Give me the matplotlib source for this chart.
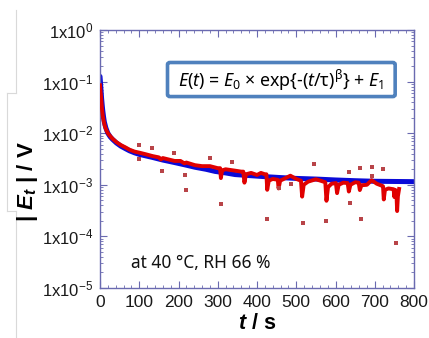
import numpy as np
import matplotlib
matplotlib.use("Agg")
import matplotlib.pyplot as plt
from matplotlib.lines import Line2D
from matplotlib.patches import FancyBboxPatch
from matplotlib.ticker import MultipleLocator, LogLocator, NullFormatter, FuncFormatter

plt.rcParams['font.family'] = ['Liberation Sans', 'DejaVu Sans']
plt.rcParams['mathtext.fontset'] = 'custom'
plt.rcParams['mathtext.rm'] = 'Noto Sans'
plt.rcParams['mathtext.it'] = 'Noto Sans:italic'
plt.rcParams['mathtext.bf'] = 'Liberation Sans:bold'
plt.rcParams['mathtext.bfit'] = 'Liberation Sans:italic:bold'
plt.rcParams['mathtext.fallback'] = 'stixsans'

# fitted curve E(t)
t_fit = [0, 1, 2.5, 4, 5.5, 7, 9, 11, 15, 20, 26, 32, 42, 53, 65, 75, 88, 100,
         117, 134, 160, 191, 220, 242, 270, 293, 320, 344, 380, 413, 460, 500,
         552, 600, 650, 700, 750, 800]
E_fit = [0.126, 0.100, 0.0692, 0.0479, 0.0355, 0.0275, 0.0209, 0.0166, 0.0126,
         0.0100, 0.00851, 0.00759, 0.00646, 0.00562, 0.00501, 0.00457, 0.00417,
         0.00389, 0.00363, 0.00339, 0.00302, 0.00269, 0.00240, 0.00219, 0.00200,
         0.00182, 0.00170, 0.00158, 0.00151, 0.00145, 0.00138, 0.00133, 0.00129,
         0.00124, 0.00120, 0.00117, 0.00116, 0.00115]

# measured |E_t| trace (red)
t_meas = [0, 1.5, 3, 5, 7, 9, 12, 16, 20, 26, 32, 42, 53, 65, 75, 88, 100, 117,
          134, 150, 155, 160, 190, 205, 215, 220, 242, 260, 280, 300, 306, 308,
          311, 320, 344, 360, 365, 368, 372, 385, 400, 410, 420, 424, 426, 430,
          440, 453, 455, 459, 485, 500, 512, 515, 519, 530, 550, 565, 574, 577,
          581, 590, 601, 604, 608, 620, 631, 634, 638, 650, 659, 662, 666, 680,
          692, 705, 718, 721, 723, 726, 735, 748, 750, 752, 755, 757, 759, 762]
E_meas = [0.085, 0.062, 0.048, 0.030, 0.022, 0.0178, 0.0140, 0.0115, 0.0100,
          0.0088, 0.0078, 0.0067, 0.0059, 0.0053, 0.0048, 0.0044, 0.0042, 0.0039,
          0.0036, 0.0034, 0.0031, 0.0033, 0.0029, 0.0029, 0.0026, 0.0027, 0.0024,
          0.0023, 0.0023, 0.0021, 0.0021, 0.00135, 0.0019, 0.0020, 0.00188,
          0.0018, 0.0018, 0.00110, 0.0016, 0.0017, 0.00155, 0.0017, 0.0016,
          0.0016, 0.00080, 0.0012, 0.0013, 0.00125, 0.00085, 0.0012, 0.0015,
          0.0013, 0.0012, 0.00059, 0.00100, 0.00115, 0.00128, 0.00118, 0.00112,
          0.00049, 0.00090, 0.00105, 0.00108, 0.00069, 0.00100, 0.00110, 0.00108,
          0.00074, 0.00100, 0.00112, 0.00110, 0.00079, 0.00098, 0.00100, 0.00123,
          0.00105, 0.00096, 0.00094, 0.00052, 0.00080, 0.00085, 0.00082, 0.00058,
          0.00080, 0.00075, 0.00031, 0.00060, 0.00083]

# scattered outlier points
t_out = [100, 100, 132, 157, 189, 217, 218, 279, 308, 337, 426, 457, 487, 546,
         516, 576, 634, 636, 662, 665, 694, 694, 722, 753]
E_out = [0.0059, 0.00316, 0.0051, 0.00186, 0.0042, 0.00158, 0.00079, 0.00324,
         0.00042, 0.00275, 0.000214, 0.00085, 0.00105, 0.00251, 0.000178,
         0.000195, 0.00174, 0.000437, 0.00214, 0.000214, 0.00224, 0.00145,
         0.00204, 7.4e-5]

x_ticks = [0, 100, 200, 300, 400, 500, 600, 700, 800]

W, H = 429, 338
fig = plt.figure(figsize=(W / 100, H / 100), dpi=100)
ax = fig.add_axes([100 / W, 1 - 288 / H, 314 / W, 258 / H])

ax.plot(t_fit, E_fit, color='#0a0ad8', lw=3.6, solid_capstyle='round', zorder=2)
ax.plot(t_meas, E_meas, color='#e00000', lw=2.8, solid_joinstyle='round', zorder=3)
ax.plot(t_out, E_out, ls='none', marker='s', ms=2.8, color='#b84448', mew=0, zorder=3)

ax.set_yscale('log')
ax.set_xlim(0, 800)
ax.set_ylim(1e-5, 1)
ax.set_xticks(x_ticks)
ax.xaxis.set_minor_locator(MultipleLocator(20))
ax.yaxis.set_major_locator(LogLocator(base=10, numticks=10))
ax.yaxis.set_minor_locator(LogLocator(base=10, subs=np.arange(2, 10), numticks=20))
ax.yaxis.set_minor_formatter(NullFormatter())
ax.yaxis.set_major_formatter(FuncFormatter(
    lambda v, _: r'1$\mathregular{x}$10$^{\mathregular{%d}}$' % int(round(np.log10(v)))))

spine_c = '#6a6ab0'
for s in ax.spines.values():
    s.set_color(spine_c)
    s.set_linewidth(1.0)
ax.tick_params(which='both', direction='in', top=True, right=True, color=spine_c,
               labelcolor='#1a1a1a')
ax.tick_params(which='major', length=5, width=0.8)
ax.tick_params(which='minor', length=2.5, width=0.6)
ax.tick_params(axis='x', labelsize=12.5, pad=5)
ax.tick_params(axis='y', labelsize=12, pad=5)

ax.set_xlabel(r'$\mathbfit{t}$ / s', fontsize=15.5, fontweight='bold', labelpad=2)
fig.text(27 / W, 1 - 182 / H, r'| $\mathbfit{E}_{\mathbfit{t}}$ | / V', rotation=90,
         fontsize=16, fontweight='bold', ha='center', va='center')

# equation box
box = FancyBboxPatch((0.215, 0.742), 0.725, 0.132, transform=ax.transAxes,
                     boxstyle='round,pad=0,rounding_size=0.008',
                     fc='white', ec='#4f81bd', lw=2.6, zorder=5)
ax.add_patch(box)
ax.text(0.577, 0.806,
        r'$\mathit{E}(\mathit{t})$ = $\mathit{E}_{\mathit{0}}$ $\times$ exp{-($\mathit{t}$/τ)$^{\mathrm{β}}$} + $\mathit{E}_{\mathit{1}}$',
        transform=ax.transAxes, ha='center', va='center', fontsize=12.8,
        family='Noto Sans', zorder=6)

ax.text(0.1, 0.095, 'at 40 °C, RH 66 %', transform=ax.transAxes, ha='left',
        va='center', fontsize=12.5, family='Noto Sans', color='#111111')

# light grey frame left around the y label
gc = '#d9d9d9'
segs = [((16, 10), (16, 93)), ((7, 93), (16, 93)), ((7, 93), (7, 211)),
        ((7, 211), (16, 211)), ((16, 211), (16, 338))]
for (x0, y0), (x1, y1) in segs:
    fig.add_artist(Line2D([x0 / W, x1 / W], [1 - y0 / H, 1 - y1 / H], color=gc, lw=0.8))

fig.savefig('out.png', dpi=100)
